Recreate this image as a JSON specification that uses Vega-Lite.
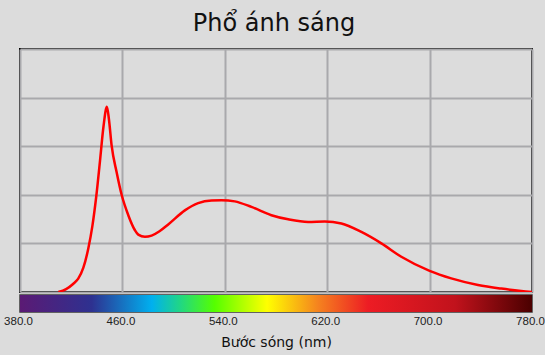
{
  "$schema": "https://vega.github.io/schema/vega-lite/v6.json",
  "padding": {"left": 2, "top": 12, "right": 0, "bottom": 6},
  "background": "#dcdcdc",
  "title": {
    "text": "Phổ ánh sáng",
    "font": "DejaVu Sans",
    "fontSize": 24,
    "fontWeight": "normal",
    "color": "#111111",
    "anchor": "middle",
    "offset": 12
  },
  "datasets": {
    "spectrum": [
      {"wl": 410, "v": 0.0},
      {"wl": 416, "v": 0.012},
      {"wl": 421.7, "v": 0.034},
      {"wl": 425.5, "v": 0.055},
      {"wl": 429.5, "v": 0.1},
      {"wl": 433.4, "v": 0.18},
      {"wl": 436.5, "v": 0.27},
      {"wl": 439.5, "v": 0.39},
      {"wl": 442.5, "v": 0.54},
      {"wl": 445.2, "v": 0.68},
      {"wl": 447.9, "v": 0.762},
      {"wl": 449.5, "v": 0.71},
      {"wl": 451.6, "v": 0.602},
      {"wl": 455.5, "v": 0.493},
      {"wl": 459.4, "v": 0.4},
      {"wl": 464.6, "v": 0.316},
      {"wl": 469.8, "v": 0.254},
      {"wl": 472.4, "v": 0.236},
      {"wl": 477.6, "v": 0.227},
      {"wl": 482.8, "v": 0.232},
      {"wl": 489, "v": 0.25},
      {"wl": 495.8, "v": 0.278},
      {"wl": 508.8, "v": 0.336},
      {"wl": 519.2, "v": 0.366},
      {"wl": 529.6, "v": 0.377},
      {"wl": 537.4, "v": 0.378},
      {"wl": 547.8, "v": 0.373},
      {"wl": 560.8, "v": 0.35},
      {"wl": 576.4, "v": 0.316},
      {"wl": 589.5, "v": 0.299},
      {"wl": 605.1, "v": 0.288},
      {"wl": 618.1, "v": 0.29},
      {"wl": 631.1, "v": 0.282},
      {"wl": 646.7, "v": 0.247},
      {"wl": 662.3, "v": 0.2},
      {"wl": 677.9, "v": 0.145},
      {"wl": 700, "v": 0.087},
      {"wl": 716.9, "v": 0.056},
      {"wl": 737.8, "v": 0.029},
      {"wl": 756, "v": 0.014},
      {"wl": 771.6, "v": 0.004},
      {"wl": 780, "v": 0.0}
    ],
    "band": [{"start": 380, "end": 780}]
  },
  "spacing": 1,
  "vconcat": [
    {
      "width": 512,
      "height": 243,
      "view": {"stroke": "#000000", "strokeWidth": 2},
      "data": {"name": "spectrum"},
      "mark": {"type": "line", "color": "#ff0000", "strokeWidth": 2.5, "interpolate": "monotone", "clip": true},
      "encoding": {
        "x": {
          "field": "wl", "type": "quantitative",
          "scale": {"domain": [380, 780], "nice": false, "zero": false},
          "axis": {"values": [380, 460, 540, 620, 700, 780], "labels": false, "ticks": false, "domain": false, "title": null, "grid": true, "gridColor": "#a9a9ac", "gridWidth": 2, "gridOpacity": 1}
        },
        "y": {
          "field": "v", "type": "quantitative",
          "scale": {"domain": [0, 1], "nice": false},
          "axis": {"values": [0, 0.2, 0.4, 0.6, 0.8, 1], "labels": false, "ticks": false, "domain": false, "title": null, "grid": true, "gridColor": "#a9a9ac", "gridWidth": 2, "gridOpacity": 1}
        }
      }
    },
    {
      "width": 512,
      "height": 17,
      "view": {"stroke": "#3a3a3a", "strokeWidth": 1.5},
      "data": {"name": "band"},
      "mark": {
        "type": "rect",
        "color": {
          "gradient": "linear",
          "x1": 0, "y1": 0, "x2": 1, "y2": 0,
          "stops": [
            {"offset": 0, "color": "#5b1a74"},
            {"offset": 0.14, "color": "#2e3190"},
            {"offset": 0.2575, "color": "#00b0ef"},
            {"offset": 0.315, "color": "#22d880"},
            {"offset": 0.38, "color": "#55ff00"},
            {"offset": 0.4825, "color": "#ffff00"},
            {"offset": 0.5825, "color": "#f5821f"},
            {"offset": 0.68, "color": "#ed1c24"},
            {"offset": 0.85, "color": "#c1121c"},
            {"offset": 1, "color": "#4a0000"}
          ]
        }
      },
      "encoding": {
        "x": {
          "field": "start", "type": "quantitative",
          "scale": {"domain": [380, 780], "nice": false, "zero": false},
          "axis": {
            "values": [380, 460, 540, 620, 700, 780],
            "format": ".1f",
            "labelFlush": false,
            "labelOverlap": false,
            "labelOffset": -2,
            "ticks": false, "domain": false, "grid": false,
            "labelFont": "Liberation Sans", "labelFontSize": 11.5, "labelColor": "#222222",
            "labelPadding": 3,
            "title": "Bước sóng (nm)",
            "titleFont": "DejaVu Sans", "titleFontSize": 14, "titleFontWeight": "normal", "titleColor": "#111111",
            "titlePadding": 9
          }
        },
        "x2": {"field": "end"}
      }
    }
  ]
}
